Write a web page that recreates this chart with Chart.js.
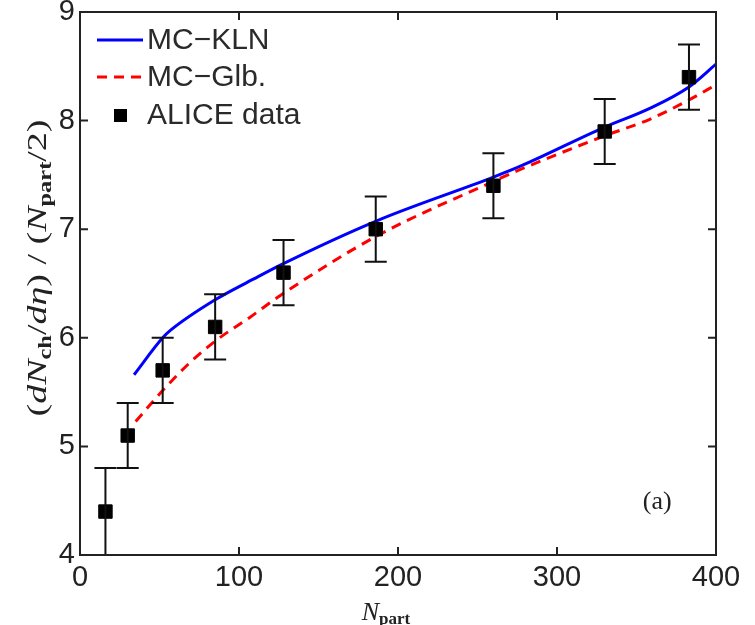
<!DOCTYPE html>
<html>
<head>
<meta charset="utf-8">
<script src="https://cdn.jsdelivr.net/npm/chart.js@4.4.1/dist/chart.umd.min.js"></script>
<style>
  html, body { margin: 0; padding: 0; background: #fff; }
</style>
</head>
<body>
<canvas id="c" width="755" height="625"></canvas>
<script>
// MC-KLN curve
const klnN = [34, 52, 57, 85, 109, 126, 187, 260, 277, 330, 358, 383, 400];
const klnY = [5.66, 6.0, 6.07, 6.35, 6.54, 6.67, 7.08, 7.48, 7.58, 7.94, 8.11, 8.31, 8.52];
// MC-Glauber curve
const glbN = [35, 53, 69, 86, 107, 126, 187, 260, 277, 330, 358, 383, 400];
const glbY = [5.23, 5.53, 5.77, 5.98, 6.19, 6.39, 6.94, 7.44, 7.55, 7.86, 8.01, 8.19, 8.33];
// ALICE data points with symmetric errors
const aliceN = [16, 30, 52, 85, 128, 186, 260, 330, 383];
const aliceY = [4.4, 5.1, 5.7, 6.1, 6.6, 7.0, 7.4, 7.9, 8.4];
const aliceErr = [0.4, 0.3, 0.3, 0.3, 0.3, 0.3, 0.3, 0.3, 0.3];

const xTicks = [0, 100, 200, 300, 400];
const yTicks = [4, 5, 6, 7, 8, 9];
const seriesNames = ['MC\u2212KLN', 'MC\u2212Glb.', 'ALICE data'];
const panelTag = { text: '(a)', x: 363, y: 4.49 };

const INK = '#222';
const SANS = '"Liberation Sans", Arial, sans-serif';
const SERIF = '"Liberation Serif", "Times New Roman", serif';

const toXY = (xs, ys) => xs.map((x, i) => ({ x, y: ys[i] }));

// frame, inward ticks, error bars, legend, axis titles
const decor = {
  id: 'decor',
  afterDatasetsDraw(chart) {
    const { ctx, scales: { x, y } } = chart;
    const ds = chart.data.datasets[2];
    ctx.save();
    ctx.strokeStyle = '#111';
    ctx.lineWidth = 2;
    ds.data.forEach((p, i) => {
      const px = x.getPixelForValue(p.x);
      const top = y.getPixelForValue(p.y + aliceErr[i]);
      const bot = y.getPixelForValue(p.y - aliceErr[i]);
      ctx.beginPath();
      ctx.moveTo(px, top); ctx.lineTo(px, bot);
      ctx.moveTo(px - 11, top); ctx.lineTo(px + 11, top);
      ctx.moveTo(px - 11, bot); ctx.lineTo(px + 11, bot);
      ctx.stroke();
    });
    ctx.restore();
  },
  afterDraw(chart) {
    const { ctx, chartArea: a, scales: { x, y } } = chart;
    ctx.save();
    // box
    ctx.strokeStyle = INK;
    ctx.lineWidth = 2;
    ctx.strokeRect(a.left, a.top, a.right - a.left, a.bottom - a.top);
    // inward ticks
    ctx.beginPath();
    xTicks.slice(1, -1).forEach(v => {
      const px = x.getPixelForValue(v);
      ctx.moveTo(px, a.bottom); ctx.lineTo(px, a.bottom - 8);
      ctx.moveTo(px, a.top); ctx.lineTo(px, a.top + 8);
    });
    yTicks.slice(1, -1).forEach(v => {
      const py = y.getPixelForValue(v);
      ctx.moveTo(a.left, py); ctx.lineTo(a.left + 8, py);
      ctx.moveTo(a.right, py); ctx.lineTo(a.right - 8, py);
    });
    ctx.stroke();

    // legend
    const rows = [40, 77, 115];
    ctx.font = '30px ' + SANS;
    ctx.textBaseline = 'middle';
    ctx.textAlign = 'left';
    chart.data.datasets.forEach((d, i) => {
      const ry = rows[i];
      if (d.showLine) {
        ctx.strokeStyle = d.borderColor;
        ctx.lineWidth = 3;
        ctx.setLineDash(d.borderDash || []);
        ctx.beginPath();
        ctx.moveTo(97, ry); ctx.lineTo(143, ry);
        ctx.stroke();
        ctx.setLineDash([]);
      } else {
        ctx.fillStyle = '#000';
        ctx.fillRect(114, ry - 6, 13, 13);
      }
      ctx.fillStyle = '#2a2a2a';
      ctx.fillText(d.label, 147, ry + 1);
    });

    // panel tag
    ctx.font = '26px ' + SERIF;
    ctx.textAlign = 'center';
    ctx.fillStyle = INK;
    ctx.fillText(panelTag.text, x.getPixelForValue(panelTag.x), y.getPixelForValue(panelTag.y));

    // x title: N_part
    const xParts = [
      { t: 'N', f: 'italic 26px ' + SERIF, dy: 0 },
      { t: 'part', f: 'bold 17px ' + SERIF, dy: 4 }
    ];
    drawParts(ctx, xParts, 386, 620, 0, null);

    // y title: (dN_ch/dη)/(N_part/2)
    const yParts = [
      { t: '(', f: '28px ' + SERIF, dy: 0 },
      { t: 'dN', f: 'italic 28px ' + SERIF, dy: 0 },
      { t: 'ch', f: 'bold 18px ' + SERIF, dy: 5 },
      { t: '/', f: '28px ' + SERIF, dy: 0 },
      { t: 'd\u03B7', f: 'italic 28px ' + SERIF, dy: 0 },
      { t: ')', f: '28px ' + SERIF, dy: 0 },
      { t: ' / ', f: '28px ' + SERIF, dy: 0 },
      { t: '(', f: '28px ' + SERIF, dy: 0 },
      { t: 'N', f: 'italic 28px ' + SERIF, dy: 0 },
      { t: 'part', f: 'bold 18px ' + SERIF, dy: 5 },
      { t: '/2)', f: '28px ' + SERIF, dy: 0 }
    ];
    drawParts(ctx, yParts, 46, 268, -Math.PI / 2, 297);
    ctx.restore();
  }
};

function drawParts(ctx, parts, cx, baseY, rot, fitLen) {
  let total = 0;
  parts.forEach(p => { ctx.font = p.f; p.w = ctx.measureText(p.t).width; total += p.w; });
  ctx.save();
  ctx.fillStyle = INK;
  ctx.textAlign = 'left';
  ctx.textBaseline = 'alphabetic';
  if (rot) {
    ctx.translate(cx, baseY);
    ctx.rotate(rot);
    if (fitLen) ctx.scale(fitLen / total, 1);
    let px = -total / 2;
    parts.forEach(p => { ctx.font = p.f; ctx.fillText(p.t, px, p.dy); px += p.w; });
  } else {
    let px = cx - total / 2;
    parts.forEach(p => { ctx.font = p.f; ctx.fillText(p.t, px, baseY + p.dy); px += p.w; });
  }
  ctx.restore();
}

new Chart(document.getElementById('c'), {
  type: 'scatter',
  data: {
    datasets: [
      {
        label: seriesNames[0],
        data: toXY(klnN, klnY),
        showLine: true,
        borderColor: '#0000ff',
        borderWidth: 3,
        pointRadius: 0,
        cubicInterpolationMode: 'monotone',
        order: 2
      },
      {
        label: seriesNames[1],
        data: toXY(glbN, glbY),
        showLine: true,
        borderColor: '#ff0000',
        borderWidth: 3,
        borderDash: [10, 7],
        pointRadius: 0,
        cubicInterpolationMode: 'monotone',
        order: 1
      },
      {
        label: seriesNames[2],
        data: toXY(aliceN, aliceY),
        showLine: false,
        pointStyle: 'rect',
        pointRadius: 9.5,
        backgroundColor: '#000',
        borderColor: '#000',
        borderWidth: 1,
        order: 0
      }
    ]
  },
  options: {
    responsive: false,
    animation: false,
    devicePixelRatio: 1,
    layout: { padding: { left: 0, top: 12, right: 39, bottom: 0 } },
    plugins: { legend: { display: false }, tooltip: { enabled: false } },
    scales: {
      x: {
        type: 'linear',
        min: 0, max: 400,
        afterBuildTicks: s => { s.ticks = xTicks.map(v => ({ value: v })); },
        ticks: { font: { family: SANS, size: 29 }, color: INK, padding: 6 },
        grid: { display: false, drawTicks: false },
        border: { display: false },
        afterFit: s => { s.height = 70; s.paddingLeft = 0; s.paddingRight = 0; }
      },
      y: {
        type: 'linear',
        min: 4, max: 9,
        afterBuildTicks: s => { s.ticks = yTicks.map(v => ({ value: v })); },
        ticks: { font: { family: SANS, size: 29 }, color: INK, padding: 5 },
        grid: { display: false, drawTicks: false },
        border: { display: false },
        afterFit: s => { s.width = 80; s.paddingTop = 0; s.paddingBottom = 0; }
      }
    }
  },
  plugins: [decor]
});
</script>
</body>
</html>
